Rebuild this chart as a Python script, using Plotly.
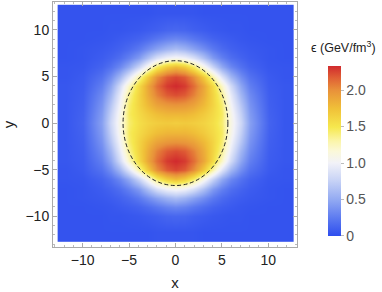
import plotly.graph_objects as go

# grid coordinates (cell centres)
x_vals = [-11.8, -10, -8, -7, -6, -5, -4, -3, -2, -1, 0, 1, 2, 3, 4, 5, 6, 7, 8, 10, 11.8]
y_vals = [-11.8, -10, -9, -8, -7, -6, -5, -4, -3, -2, -1, 0, 1, 2, 3, 4, 5, 6, 7, 8, 9, 10, 11.8]

# energy density (GeV/fm^3), rows follow y_vals
row_y118 = [0.03,0.03,0.03,0.03,0.03,0.03,0.03,0.03,0.04,0.04,0.04,0.04,0.04,0.03,0.03,0.03,0.03,0.03,0.03,0.03,0.03]
row_y10  = [0.03,0.03,0.03,0.04,0.04,0.05,0.06,0.08,0.10,0.13,0.14,0.13,0.10,0.08,0.06,0.05,0.04,0.04,0.03,0.03,0.03]
row_y9   = [0.03,0.03,0.04,0.05,0.07,0.09,0.12,0.17,0.23,0.29,0.32,0.29,0.23,0.17,0.12,0.09,0.07,0.05,0.04,0.03,0.03]
row_y8   = [0.03,0.04,0.06,0.08,0.11,0.16,0.24,0.35,0.46,0.56,0.62,0.56,0.46,0.35,0.24,0.16,0.11,0.08,0.06,0.04,0.03]
row_y7   = [0.03,0.04,0.08,0.12,0.18,0.28,0.42,0.64,0.86,1.00,1.05,1.00,0.86,0.64,0.42,0.28,0.18,0.12,0.08,0.04,0.03]
row_y6   = [0.04,0.05,0.12,0.20,0.32,0.50,0.78,1.10,1.45,1.68,1.78,1.68,1.45,1.10,0.78,0.50,0.32,0.20,0.12,0.05,0.04]
row_y5   = [0.04,0.07,0.20,0.35,0.58,0.90,1.30,1.68,2.00,2.18,2.24,2.18,2.00,1.68,1.30,0.90,0.58,0.35,0.20,0.07,0.04]
row_y4   = [0.05,0.08,0.27,0.48,0.82,1.22,1.58,1.88,2.12,2.28,2.33,2.28,2.12,1.88,1.58,1.22,0.82,0.48,0.27,0.08,0.05]
row_y3   = [0.05,0.09,0.33,0.58,0.94,1.35,1.62,1.85,2.05,2.18,2.22,2.18,2.05,1.85,1.62,1.35,0.94,0.58,0.33,0.09,0.05]
row_y2   = [0.05,0.10,0.38,0.68,1.02,1.42,1.62,1.78,1.90,1.96,1.98,1.96,1.90,1.78,1.62,1.42,1.02,0.68,0.38,0.10,0.05]
row_y1   = [0.05,0.11,0.42,0.75,1.08,1.45,1.58,1.68,1.76,1.80,1.80,1.80,1.76,1.68,1.58,1.45,1.08,0.75,0.42,0.11,0.05]
row_y0   = [0.05,0.12,0.45,0.80,1.10,1.42,1.55,1.62,1.66,1.68,1.66,1.68,1.66,1.62,1.55,1.42,1.10,0.80,0.45,0.12,0.05]

z_vals = [row_y118, row_y10, row_y9, row_y8, row_y7, row_y6, row_y5, row_y4, row_y3, row_y2, row_y1,
          row_y0,
          row_y1, row_y2, row_y3, row_y4, row_y5, row_y6, row_y7, row_y8, row_y9, row_y10, row_y118]

z_max = 2.33
cbar_tickvals = [0, 0.5, 1.0, 1.5, 2.0]
cbar_ticktext = ["0", "0.5", "1.0", "1.5", "2.0"]
axis_tickvals = [-10, -5, 0, 5, 10]

# ellipse (semi-axes)
ell_a = 5.65
ell_b = 6.7

temperature_map = [
    [0.00, "#2e4eee"],
    [0.10, "#5a78f0"],
    [0.215, "#93aaf2"],
    [0.33, "#c9d4f6"],
    [0.43, "#f2f2f8"],
    [0.50, "#fbf8d8"],
    [0.56, "#fbf5a8"],
    [0.64, "#f6e84e"],
    [0.75, "#f0c038"],
    [0.86, "#e8903a"],
    [0.93, "#e06035"],
    [1.00, "#d12a2e"],
]

font_family = "Liberation Sans, Arial, sans-serif"

fig = go.Figure()
fig.add_trace(go.Heatmap(
    x=x_vals, y=y_vals, z=z_vals,
    zmin=0, zmax=z_max, zsmooth="best",
    colorscale=temperature_map,
    colorbar=dict(
        x=1.127, xanchor="left", xpad=0,
        y=0.045, yanchor="bottom", ypad=0,
        thickness=13, lenmode="pixels", len=170,
        outlinewidth=0,
        tickvals=cbar_tickvals, ticktext=cbar_ticktext,
        ticks="outside", ticklen=3, tickcolor="#bbbbbb",
        tickfont=dict(family=font_family, size=14, color="#555555"),
    ),
))

fig.add_shape(type="circle", xref="x", yref="y",
              x0=-ell_a, x1=ell_a, y0=-ell_b, y1=ell_b,
              line=dict(color="#222222", width=1, dash="4px,2.5px"))

fig.add_annotation(text="ϵ (GeV/fm<sup>3</sup>)", xref="paper", yref="paper",
                   x=1.189, y=0.816, xanchor="center", yanchor="middle",
                   showarrow=False, font=dict(family=font_family, size=12.5, color="#222222"))

axis_common = dict(
    showgrid=False, zeroline=False,
    showline=True, linecolor="#aaaaaa", linewidth=1, mirror="ticks",
    ticks="inside", ticklen=4, tickcolor="#aaaaaa",
    minor=dict(ticks="inside", ticklen=2, dtick=1, tickcolor="#bbbbbb"),
    tickvals=axis_tickvals,
    tickfont=dict(family=font_family, size=14, color="#222222"),
    automargin=False,
)

fig.update_xaxes(range=[-13.2, 13.1], title=dict(text="x", standoff=10,
                 font=dict(family=font_family, size=15, color="#222222")), **axis_common)
fig.update_yaxes(range=[-13.3, 13.0], title=dict(text="y", standoff=10,
                 font=dict(family=font_family, size=15, color="#222222")), **axis_common)

fig.update_layout(
    width=382, height=292,
    margin=dict(l=53, r=85, t=2, b=45, autoexpand=False),
    paper_bgcolor="white", plot_bgcolor="white",
    font=dict(family=font_family),
)

fig.write_html("out.html", config={"displayModeBar": False})

# remove the browser's default page margin so the figure starts at the window corner
with open("out.html", "r", encoding="utf-8") as fh:
    html = fh.read()
html = html.replace("<body>", '<body style="margin:0;padding:0;overflow:hidden">', 1)
with open("out.html", "w", encoding="utf-8") as fh:
    fh.write(html)
